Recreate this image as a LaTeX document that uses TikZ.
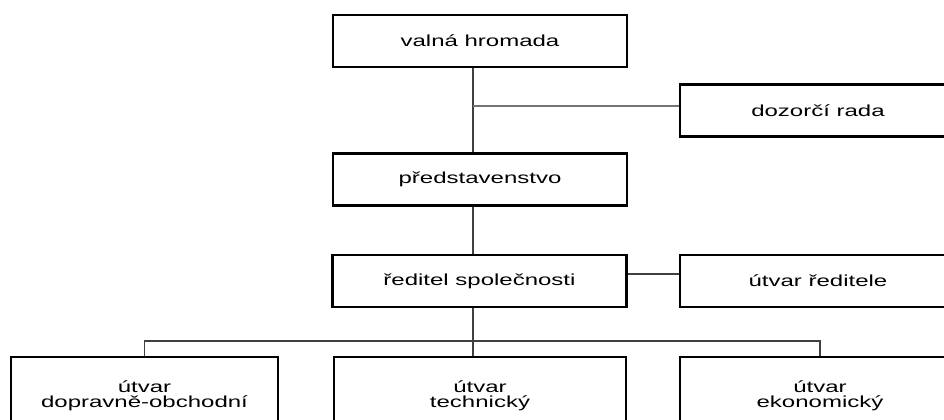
\documentclass[tikz,border=0pt]{standalone}
\usepackage{fontspec}
\setmainfont{Liberation Sans}[FakeStretch=1.5]
\usepackage{tikz}

\begin{document}
\begin{tikzpicture}[x=0.5pt,y=-0.5pt,
  unit/.style={draw=black,line width=1.1pt,fill=white,inner sep=0pt,
    align=center,font=\fontsize{8pt}{7.4pt}\selectfont},
  wide/.style={unit,minimum width=147pt,minimum height=26pt},
  side/.style={unit,minimum width=138pt,minimum height=26pt},
  low/.style={unit,minimum height=39pt},
  link/.style={draw=black!75,line width=0.65pt},
  sidelink/.style={draw=black!55,line width=0.65pt}]
\useasboundingbox (0,0) rectangle (944,419);
% Drawing boxes
% Line 1: valna hromada
\node[wide] (vh) at (480,41) {valná hromada};
% Line 2: dozorci rada
\node[side] (dr) at (818,110.5) {dozorčí rada};
% Line 3: predstavenstvo
\node[wide] (ps) at (480,179.5) {představenstvo};
% Line 4: reditel, utvar reditele
\node[wide] (rs) at (479.5,281) {ředitel společnosti};
\node[side] (ur) at (818,281) {útvar ředitele};
% Line 5: utvary
\node[low,minimum width=133.5pt] (dob) at (144.5,396) {útvar\\dopravně-obchodní};
\node[low,minimum width=146pt] (tec) at (480,396) {útvar\\technický};
\node[low,minimum width=140pt] (eko) at (820,396) {útvar\\ekonomický};
% Done with boxes; drawing links
\coordinate (spine) at (473,0);
\coordinate (drlink) at (473,106);
\coordinate (urlink) at (0,274);
\coordinate (bus) at (473,341);
\draw[link] (vh.south -| spine) -- (ps.north -| spine);
\draw[sidelink] (drlink) -- (dr.west |- drlink);
\draw[link] (ps.south -| spine) -- (rs.north -| spine);
\draw[link] (rs.east |- urlink) -- (ur.west |- urlink);
\draw[link] (rs.south -| spine) -- (tec.north -| spine);
\draw[link] (dob.north) |- (bus) -| (eko.north);
% Done with links
\end{tikzpicture}
\end{document}
